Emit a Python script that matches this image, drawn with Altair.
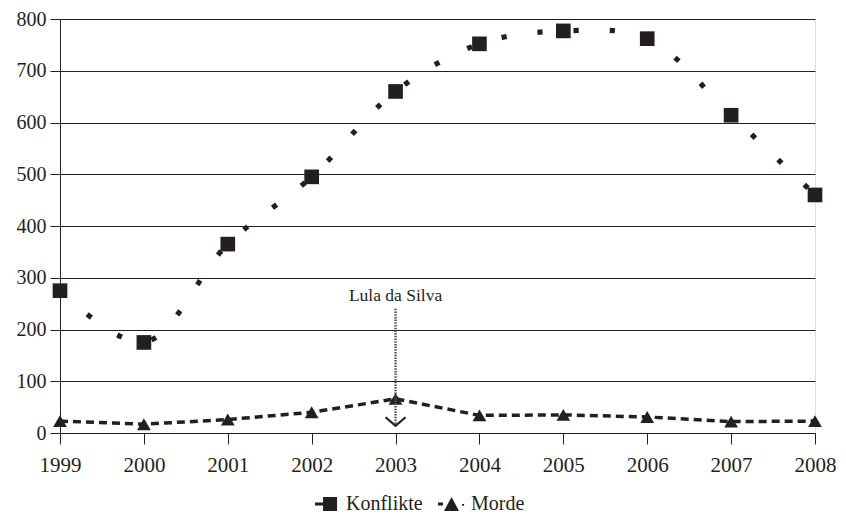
import altair as alt
import pandas as pd

years = [1999, 2000, 2001, 2002, 2003, 2004, 2005, 2006, 2007, 2008]
konflikte = [275, 175, 365, 495, 660, 752, 777, 762, 614, 460]
morde = [23, 17, 26, 40, 66, 34, 35, 31, 22, 23]
series = ["Konflikte", "Morde"]
y_ticks = [0, 100, 200, 300, 400, 500, 600, 700, 800]

annot_year = [2003]
annot_label = ["Lula da Silva"]
annot_top = [240]
annot_bottom = [14]
annot_text_y = [256]

INK = "#231f20"
FONT = "Liberation Serif"

df = pd.DataFrame({
    "year": years * 2,
    "value": konflikte + morde,
    "series": ["Konflikte"] * len(years) + ["Morde"] * len(years),
})
ann = pd.DataFrame({"year": annot_year, "label": annot_label, "top": annot_top,
                    "bottom": annot_bottom, "ty": annot_text_y})

x = alt.X("year:Q", scale=alt.Scale(domain=[years[0], years[-1]], nice=False),
          axis=alt.Axis(values=years, format="d", title=None, grid=False,
                        tickSize=11, labelPadding=10, labelFontSize=21,
                        labelFont=FONT, labelColor=INK, domainColor=INK,
                        tickColor=INK, labelFlush=False))
y = alt.Y("value:Q", scale=alt.Scale(domain=[0, 800], nice=False),
          axis=alt.Axis(values=y_ticks, title=None, grid=True, gridColor=INK,
                        gridOpacity=1, tickSize=10, labelPadding=4, labelFontSize=20,
                        labelFont=FONT, labelColor=INK, domainColor=INK, tickColor=INK))

base = alt.Chart(df)

k_line = base.transform_filter("datum.series == 'Konflikte'").mark_line(
    interpolate="catmull-rom", color=INK, strokeWidth=5.2, strokeDash=[5.2, 31],
    strokeCap="butt").encode(x=x, y=y)
k_pts = base.transform_filter("datum.series == 'Konflikte'").mark_point(
    shape="square", filled=True, size=215, color=INK, opacity=1).encode(x=x, y=y)
m_line = base.transform_filter("datum.series == 'Morde'").mark_line(
    color=INK, strokeWidth=3.5, strokeDash=[8, 5]).encode(x=x, y=y)
m_pts = base.transform_filter("datum.series == 'Morde'").mark_point(
    shape="triangle-up", filled=True, size=190, color=INK, opacity=1).encode(x=x, y=y)

legend_paths = [
    "M-0.79,-0.11H-0.21V0.11H-0.79Z M-0.21,-0.5H0.79V0.5H-0.21Z",
    "M-0.93,-0.1H-0.57V0.1H-0.93Z M-0.5,0.5L0.04,-0.5L0.57,0.5Z M0.79,0.0H0.93V0.12H0.79Z",
]
legend_layer = base.transform_filter("datum.value < -1000").mark_point(
    filled=True, color=INK, opacity=1).encode(
    x=x, y=y,
    shape=alt.Shape("series:N", scale=alt.Scale(domain=series, range=legend_paths),
                    legend=alt.Legend(title=None, orient="none", direction="horizontal",
                                      legendX=252, legendY=471, symbolSize=784,
                                      symbolFillColor=INK, symbolStrokeWidth=0,
                                      labelFont=FONT, labelFontSize=20, labelColor=INK,
                                      labelOffset=6, columnPadding=14)))

arrow_line = alt.Chart(ann).mark_rule(color="#555555", strokeWidth=2.5,
                                      strokeDash=[1.5, 1.2]).encode(
    x=alt.X("year:Q"), y=alt.Y("top:Q"), y2="bottom:Q")
arrow_head = alt.Chart(ann).mark_point(
    shape="M-1,-0.85L0,0L1,-0.85", filled=False, size=400, color=INK,
    strokeWidth=2.2, opacity=1).encode(x=alt.X("year:Q"), y=alt.Y("bottom:Q"))
arrow_text = alt.Chart(ann).mark_text(font=FONT, fontSize=17.5, color=INK,
                                      baseline="alphabetic").encode(
    x=alt.X("year:Q"), y=alt.Y("ty:Q"), text="label:N")

chart = alt.layer(k_line, m_line, k_pts, m_pts, arrow_line, arrow_head, arrow_text,
                  legend_layer).properties(
    width=755, height=414,
    autosize=alt.AutoSizeParams(type="none"),
    padding={"left": 52, "top": 11, "right": 23, "bottom": 85},
).configure_view(stroke=INK, strokeWidth=1.2).configure(background="white")

chart.save("out.html", embed_options={"renderer": "svg", "actions": False})
